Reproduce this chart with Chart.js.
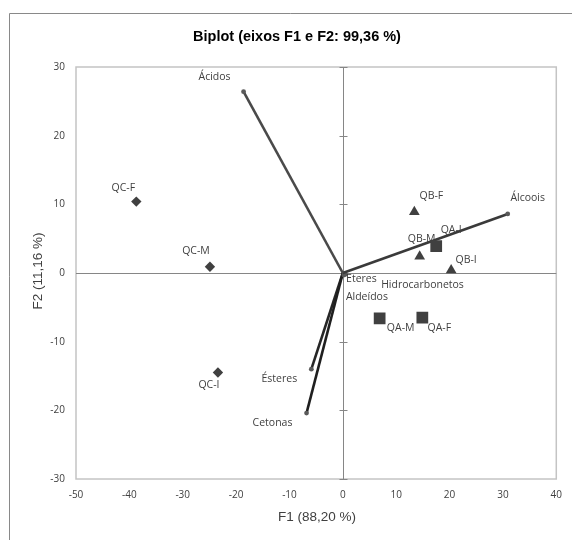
<!DOCTYPE html>
<html>
<head>
<meta charset="utf-8">
<script src="https://cdn.jsdelivr.net/npm/chart.js@4/dist/chart.umd.min.js"></script>
<style>
  html, body { margin: 0; padding: 0; background: #ffffff; }
  #wrap { position: relative; width: 572px; height: 540px; }
</style>
</head>
<body>
<div id="wrap"><canvas id="c" width="572" height="540"></canvas></div>
<script>
// ---- Data ----
const titleText = 'Biplot (eixos F1 e F2: 99,36 %)';
const xTitle = 'F1 (88,20 %)';
const yTitle = 'F2 (11,16 %)';
const xTicks = [-50, -40, -30, -20, -10, 0, 10, 20, 30, 40];
const yTicks = [-30, -20, -10, 0, 10, 20, 30];

// Observations
const qaNames = ['QA-F', 'QA-I', 'QA-M'];
const qaF1 = [14.9, 17.5, 6.9];
const qaF2 = [-6.5, 3.9, -6.6];

const qbNames = ['QB-F', 'QB-I', 'QB-M'];
const qbF1 = [13.4, 20.3, 14.4];
const qbF2 = [8.9, 0.4, 2.4];

const qcNames = ['QC-F', 'QC-I', 'QC-M'];
const qcF1 = [-38.7, -23.4, -24.9];
const qcF2 = [10.4, -14.5, 0.9];

// Variables (vectors from the origin)
const varNames = ['Ácidos', 'Álcoois', 'Aldeídos', 'Cetonas', 'Ésteres', 'Eteres', 'Hidrocarbonetos'];
const varF1 = [-18.6, 30.9, 0.2, -6.8, -5.9, 0.3, 0.5];
const varF2 = [26.4, 8.6, -0.3, -20.4, -14.0, -0.1, -0.2];

// ---- Label placement (pixel offsets from the mark to the label centre) ----
const labelOffsets = {
  'QA-F': [17, 10], 'QA-I': [15, -16], 'QA-M': [21, 10],
  'QB-F': [17, -16], 'QB-I': [15, -10], 'QB-M': [2, -18],
  'QC-F': [-13, -14], 'QC-I': [-9, 12], 'QC-M': [-14, -16],
  'Ácidos': [-29, -15], 'Álcoois': [20, -16], 'Aldeídos': [23, 22],
  'Cetonas': [-34, 10], 'Ésteres': [-32, 10], 'Eteres': [17, 5],
  'Hidrocarbonetos': [77, 11]
};
const vectorColors = {
  'Ácidos': '#4a4a4a', 'Álcoois': '#3a3a3a', 'Aldeídos': '#404040',
  'Cetonas': '#1f1f1f', 'Ésteres': '#262626', 'Eteres': '#404040', 'Hidrocarbonetos': '#404040'
};

const markColor = '#404040';
const labelFont = '10.5px "Open Sans"';

function pts(xs, ys) { return xs.map((x, i) => ({ x: x, y: ys[i] })); }

const datasets = [
  { label: 'QA', names: qaNames, data: pts(qaF1, qaF2), pointStyle: 'rect', pointRadius: 8.3,
    backgroundColor: markColor, borderColor: markColor, borderWidth: 0 },
  { label: 'QB', names: qbNames, data: pts(qbF1, qbF2), pointStyle: 'triangle', pointRadius: 6.2,
    backgroundColor: markColor, borderColor: markColor, borderWidth: 0 },
  { label: 'QC', names: qcNames, data: pts(qcF1, qcF2), pointStyle: 'rectRot', pointRadius: 5.2,
    backgroundColor: markColor, borderColor: markColor, borderWidth: 0 }
];
varNames.forEach((n, i) => {
  datasets.push({
    label: n, names: [null, n], isVector: true,
    data: [{ x: 0, y: 0 }, { x: varF1[i], y: varF2[i] }],
    showLine: true, borderColor: vectorColors[n], borderWidth: 2.6,
    pointRadius: [0, 2.4], pointBackgroundColor: '#5a5a5a', pointBorderWidth: 0
  });
});

const framePlugin = {
  id: 'frame',
  beforeDraw(chart) {
    const ctx = chart.ctx;
    ctx.save();
    ctx.fillStyle = '#ffffff';
    ctx.fillRect(0, 0, chart.width, chart.height);
    // outer chart frame (left and top visible)
    ctx.strokeStyle = '#898989';
    ctx.lineWidth = 1;
    ctx.beginPath();
    ctx.moveTo(9.5, chart.height);
    ctx.lineTo(9.5, 13.5);
    ctx.lineTo(chart.width, 13.5);
    ctx.stroke();
    // title
    ctx.fillStyle = '#000000';
    ctx.font = 'bold 14.5px "Liberation Sans", Arial, sans-serif';
    ctx.textAlign = 'center';
    ctx.textBaseline = 'middle';
    ctx.fillText(titleText, 297, 37);
    // axis titles
    ctx.fillStyle = '#404040';
    ctx.font = '13.5px "Liberation Sans", Arial, sans-serif';
    ctx.fillText(xTitle, 317, 517);
    ctx.translate(38, 271);
    ctx.rotate(-Math.PI / 2);
    ctx.fillText(yTitle, 0, 0);
    ctx.restore();
  },
  beforeDatasetsDraw(chart) {
    const ctx = chart.ctx;
    const a = chart.chartArea;
    const xs = chart.scales.x, ys = chart.scales.y;
    ctx.save();
    // plot border
    ctx.strokeStyle = '#c4c4c4';
    ctx.lineWidth = 1.5;
    ctx.strokeRect(a.left, a.top, a.right - a.left, a.bottom - a.top);
    // zero axes
    ctx.strokeStyle = '#868686';
    ctx.lineWidth = 1;
    const x0 = Math.round(xs.getPixelForValue(0)) + 0.5;
    const y0 = Math.round(ys.getPixelForValue(0)) + 0.5;
    ctx.beginPath();
    ctx.moveTo(a.left, y0); ctx.lineTo(a.right, y0);
    ctx.moveTo(x0, a.top); ctx.lineTo(x0, a.bottom);
    yTicks.forEach(v => {
      const py = Math.round(ys.getPixelForValue(v)) + 0.5;
      ctx.moveTo(x0 - 4, py); ctx.lineTo(x0 + 4, py);
    });
    ctx.stroke();
    ctx.restore();
  },
  afterDatasetsDraw(chart) {
    const ctx = chart.ctx;
    ctx.save();
    ctx.font = labelFont;
    ctx.fillStyle = '#404040';
    ctx.textAlign = 'center';
    ctx.textBaseline = 'middle';
    chart.data.datasets.forEach((ds, di) => {
      const meta = chart.getDatasetMeta(di);
      ds.names.forEach((n, i) => {
        if (!n) return;
        const el = meta.data[i];
        const off = labelOffsets[n] || [0, -14];
        ctx.fillText(n, el.x + off[0], el.y + off[1]);
      });
    });
    ctx.restore();
  }
};

new Chart(document.getElementById('c'), {
  type: 'scatter',
  data: { datasets: datasets },
  options: {
    responsive: false,
    devicePixelRatio: 1,
    animation: false,
    layout: { padding: { top: 67, right: 15, left: 0, bottom: 0 } },
    plugins: { legend: { display: false }, tooltip: { enabled: false }, title: { display: false } },
    scales: {
      x: {
        type: 'linear', min: -50, max: 40,
        afterBuildTicks(s) { s.ticks = xTicks.map(v => ({ value: v })); },
        afterFit(s) { s.height = 61; },
        grid: { display: false, drawTicks: false },
        border: { display: false },
        ticks: { padding: 10, color: '#404040', font: { family: '"Open Sans"', size: 10 },
                 callback: v => String(v), maxRotation: 0, autoSkip: false }
      },
      y: {
        type: 'linear', min: -30, max: 30,
        afterBuildTicks(s) { s.ticks = yTicks.map(v => ({ value: v })); },
        afterFit(s) { s.width = 76; },
        grid: { display: false, drawTicks: false },
        border: { display: false },
        ticks: { padding: 11, color: '#404040', font: { family: '"Open Sans"', size: 10 },
                 callback: v => String(v), autoSkip: false }
      }
    }
  },
  plugins: [framePlugin]
});
</script>
</body>
</html>
